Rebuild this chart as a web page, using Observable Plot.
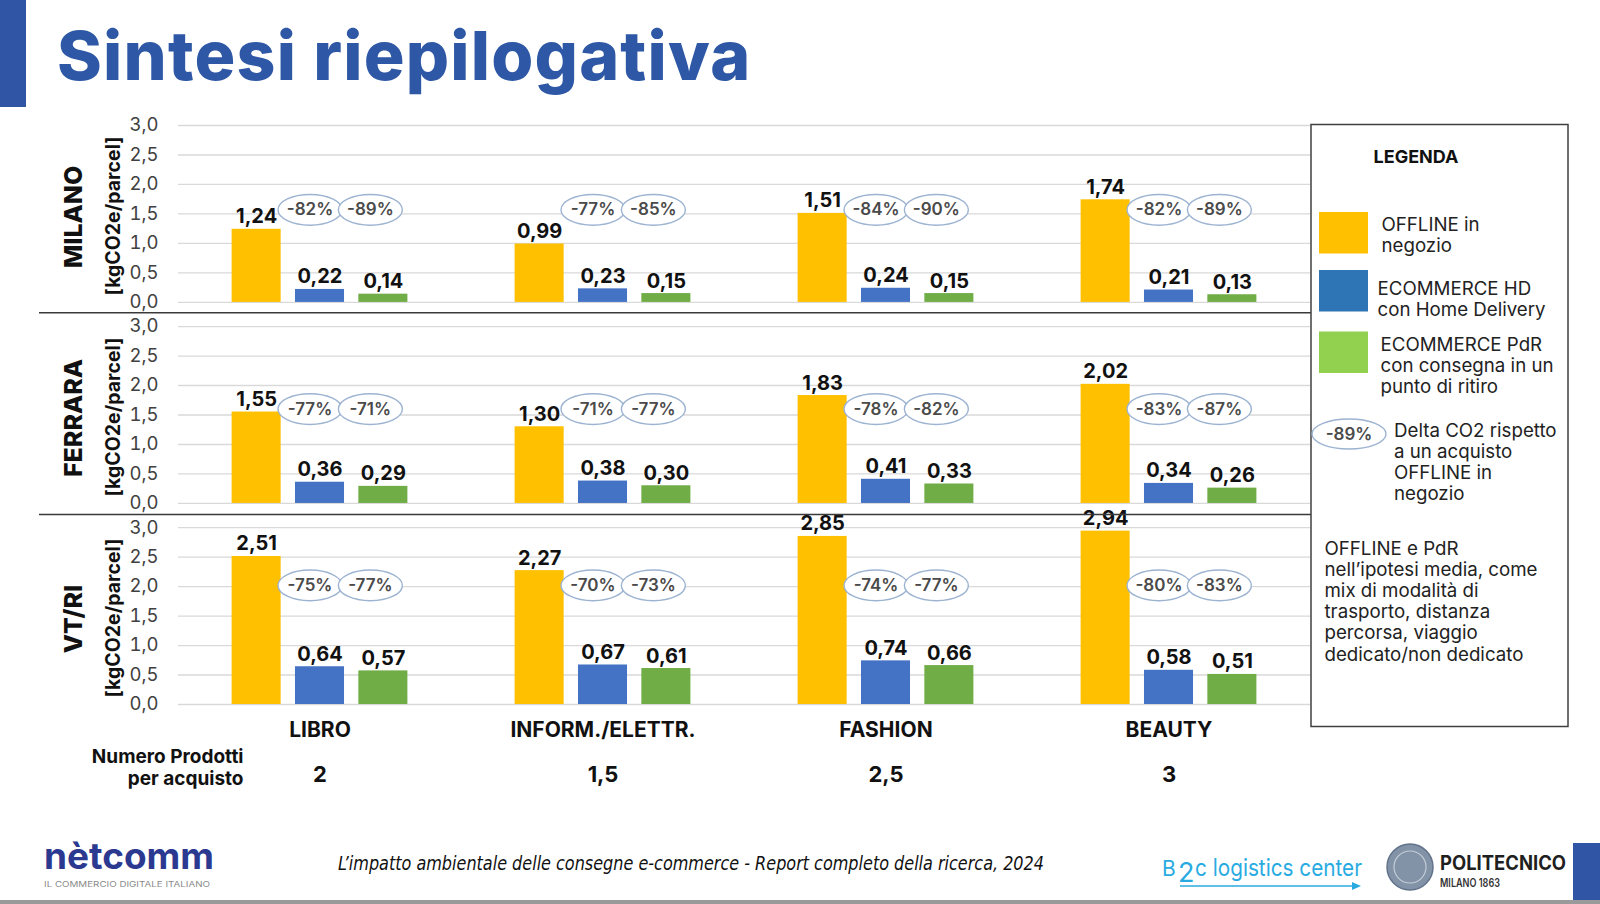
<!DOCTYPE html>
<html><head><meta charset="utf-8">
<script src="https://cdn.jsdelivr.net/npm/d3@7"></script>
<script src="https://cdn.jsdelivr.net/npm/@observablehq/plot@0.6"></script>
<style>
html,body{margin:0;padding:0;background:#fff;}
#wrap{position:relative;width:1600px;height:904px;overflow:hidden;background:#fff;}
#wrap > svg{position:absolute;left:0;top:0;}
</style></head>
<body><div id="wrap"></div>
<script>
// ---------------- DATA ----------------
const categories = ["LIBRO", "INFORM./ELETTR.", "FASHION", "BEAUTY"];
const cities = ["MILANO", "FERRARA", "VT/RI"];
const series = ["OFFLINE", "ECOMMERCE HD", "ECOMMERCE PdR"];
const barColors = ["#FFC000", "#4472C4", "#70AD47"];
const legendColors = ["#FFC000", "#2E75B6", "#92D050"];

const milanoOffline = [1.24, 0.99, 1.51, 1.74];
const milanoHD      = [0.22, 0.23, 0.24, 0.21];
const milanoPdR     = [0.14, 0.15, 0.15, 0.13];
const ferraraOffline = [1.55, 1.30, 1.83, 2.02];
const ferraraHD      = [0.36, 0.38, 0.41, 0.34];
const ferraraPdR     = [0.29, 0.30, 0.33, 0.26];
const vtriOffline = [2.51, 2.27, 2.85, 2.94];
const vtriHD      = [0.64, 0.67, 0.74, 0.58];
const vtriPdR     = [0.57, 0.61, 0.66, 0.51];

const milanoDeltaHD   = [-82, -77, -84, -82];
const milanoDeltaPdR  = [-89, -85, -90, -89];
const ferraraDeltaHD  = [-77, -71, -78, -83];
const ferraraDeltaPdR = [-71, -77, -82, -87];
const vtriDeltaHD     = [-75, -70, -74, -80];
const vtriDeltaPdR    = [-77, -73, -77, -83];

const productsPerPurchase = [2, 1.5, 2.5, 3];
const yTicks = [0, 0.5, 1, 1.5, 2, 2.5, 3];
const unitLabel = "[kgCO2e/parcel]";
const productsLabel = "Numero Prodotti\nper acquisto";

const legendLines = [["OFFLINE in", "negozio"], ["ECOMMERCE HD", "con Home Delivery"], ["ECOMMERCE PdR", "con consegna in un", "punto di ritiro"]];
const deltaLegendSample = -89;
const deltaLegendLines = ["Delta CO2 rispetto", "a un acquisto", "OFFLINE in", "negozio"];
const noteLines = ["OFFLINE e PdR", "nell’ipotesi media, come", "mix di modalità di", "trasporto, distanza", "percorsa, viaggio", "dedicato/non dedicato"];
const titleText = "Sintesi riepilogativa";
const sourceText = "L’impatto ambientale delle consegne e-commerce - Report completo della ricerca,  2024";

// ---------------- TABLES ----------------
const valuesByCity = {
  "MILANO": [milanoOffline, milanoHD, milanoPdR],
  "FERRARA": [ferraraOffline, ferraraHD, ferraraPdR],
  "VT/RI": [vtriOffline, vtriHD, vtriPdR]
};
const deltasByCity = {
  "MILANO": [milanoDeltaHD, milanoDeltaPdR],
  "FERRARA": [ferraraDeltaHD, ferraraDeltaPdR],
  "VT/RI": [vtriDeltaHD, vtriDeltaPdR]
};
const rows = [];
for (const city of cities) categories.forEach((cat, i) => series.forEach((s, k) => rows.push({city, category: cat, series: s, value: valuesByCity[city][k][i]})));
const deltaRows = [[], []];
for (const city of cities) categories.forEach((cat, i) => [0, 1].forEach(k => deltaRows[k].push({city, category: cat, series: series[k + 1], delta: deltasByCity[city][k][i]})));

// level (in axis units) at which the delta badges sit in each panel
const badgeLevel = {"MILANO": 1.57, "FERRARA": 1.6, "VT/RI": 2.02};

const fmt1 = v => v.toFixed(1).replace(".", ",");
const fmt2 = v => v.toFixed(2).replace(".", ",");
const fmtN = v => String(v).replace(".", ",");

const ellipse = {
  draw(ctx, size) {
    const r = Math.sqrt(size / Math.PI), rx = r, ry = r * 0.48, k = 0.5522847498;
    ctx.moveTo(rx, 0);
    ctx.bezierCurveTo(rx, ry * k, rx * k, ry, 0, ry);
    ctx.bezierCurveTo(-rx * k, ry, -rx, ry * k, -rx, 0);
    ctx.bezierCurveTo(-rx, -ry * k, -rx * k, -ry, 0, -ry);
    ctx.bezierCurveTo(rx * k, -ry, rx, -ry * k, rx, 0);
    ctx.closePath();
  }
};

const FONT = "Inter, 'Noto Sans', sans-serif";

const badgeDx = [-10, -13];
const badgeMarks = [];
[0, 1].forEach(k => badgeMarks.push(Plot.dot(deltaRows[k], {fx: "category", fy: "city", x: "series", y: d => badgeLevel[d.city], symbol: ellipse, r: 32, fill: "white", stroke: "#9CB3D1", strokeWidth: 1.4, dx: badgeDx[k]})));
[0, 1].forEach(k => badgeMarks.push(Plot.text(deltaRows[k], {fx: "category", fy: "city", x: "series", y: d => badgeLevel[d.city], text: d => d.delta + "%", fontSize: 17, fontWeight: 600, fill: "#4a4a4a", dx: badgeDx[k]})));

const chart = Plot.plot({
  width: 1600, height: 904,
  marginLeft: 178, marginRight: 290, marginTop: 125, marginBottom: 200,
  style: {fontFamily: FONT, fontSize: "18.5px", background: "transparent", overflow: "visible"},
  fx: {domain: categories, paddingInner: 0, paddingOuter: 0, round: false, axis: null, label: null},
  fy: {domain: cities, paddingInner: 0.12, paddingOuter: 0, round: false, axis: null, label: null},
  x: {domain: series, paddingInner: 0.226, paddingOuter: 0.846, round: false, axis: null, label: null},
  y: {domain: [0, 3], label: null},
  color: {domain: series, range: barColors},
  marks: [
    Plot.ruleY(yTicks, {stroke: "#D9D9D9", strokeWidth: 1.3}),
    Plot.axisY({ticks: yTicks, tickFormat: fmt1, tickSize: 0, tickPadding: 20, label: null, color: "#404040"}),
    Plot.barY(rows, {fx: "category", fy: "city", x: "series", y: "value", fill: "series"}),
    Plot.text(rows, {fx: "category", fy: "city", x: "series", y: "value", text: d => fmt2(d.value), lineAnchor: "bottom", dy: -6, fontSize: 20, fontWeight: 700, fill: "#111"}),
    ...badgeMarks,
    Plot.text(cities, {fx: () => categories[0], fy: d => d, text: d => d, frameAnchor: "left", textAnchor: "middle", rotate: -90, dx: -105, dy: 3, fontSize: 25, fontWeight: 800, fill: "#111"}),
    Plot.text(cities, {fx: () => categories[0], fy: d => d, text: () => unitLabel, frameAnchor: "left", textAnchor: "middle", rotate: -90, dx: -65, dy: 2, fontSize: 19.5, fontWeight: 700, fill: "#111"}),
    Plot.text(categories, {fx: d => d, fy: () => cities[2], text: d => d, frameAnchor: "bottom", dy: 32, fontSize: 21, fontWeight: 700, fill: "#111"}),
    Plot.text(productsPerPurchase, {fx: (d, i) => categories[i], fy: () => cities[2], text: d => fmtN(d), frameAnchor: "bottom", dy: 77, fontSize: 22, fontWeight: 700, fill: "#111"}),
    Plot.text([productsLabel], {fx: () => categories[0], fy: () => cities[2], text: d => d, frameAnchor: "bottom-left", textAnchor: "end", dx: 65, dy: 80, lineHeight: 1.13, fontSize: 19, fontWeight: 700, fill: "#111"})
  ]
});
const wrap = document.getElementById("wrap");
wrap.appendChild(chart);

// ---------------- OVERLAY (title, separators, legend, footer) ----------------
const ov = d3.select(wrap).append("svg").attr("width", 1600).attr("height", 904).style("font-family", FONT).style("pointer-events", "none");
const T = (x, y, s, o = {}) => {
  const t = ov.append("text").attr("x", x).attr("y", y).attr("dy", o.dy ?? "0.35em").text(s)
    .attr("font-size", o.size ?? 18.7).attr("font-weight", o.weight ?? 400).attr("fill", o.fill ?? "#222")
    .attr("text-anchor", o.anchor ?? "start");
  if (o.family) t.attr("font-family", o.family);
  if (o.italic) t.attr("font-style", "italic");
  if (o.ls) t.attr("letter-spacing", o.ls);
  if (o.len) t.attr("textLength", o.len).attr("lengthAdjust", "spacingAndGlyphs");
  return t;
};

// title + left accent
ov.append("rect").attr("x", 0).attr("y", 0).attr("width", 26).attr("height", 107).attr("fill", "#2F55A4");
T(57, 80, titleText, {dy: 0, size: 68, weight: 800, fill: "#2E58A6", ls: 1.2});

// panel separators
[312.7, 514.5].forEach(y => ov.append("line").attr("x1", 39).attr("x2", 1311).attr("y1", y).attr("y2", y).attr("stroke", "#3a3a3a").attr("stroke-width", 1.5));

// legend box
ov.append("rect").attr("x", 1311).attr("y", 124.5).attr("width", 257).attr("height", 602).attr("fill", "none").attr("stroke", "#404040").attr("stroke-width", 1.5);
T(1416, 156.5, "LEGENDA", {size: 18, weight: 700, fill: "#111", anchor: "middle"});
const swY = [212, 270, 331.5];
const txX = [1381.5, 1377.5, 1380.5];
const txY = [224.5, 288, 344];
legendLines.forEach((lines, k) => {
  ov.append("rect").attr("x", 1319).attr("y", swY[k]).attr("width", 49).attr("height", 41.5).attr("fill", legendColors[k]);
  lines.forEach((s, j) => T(txX[k], txY[k] + j * 21.2, s));
});
ov.append("ellipse").attr("cx", 1349).attr("cy", 434).attr("rx", 37).attr("ry", 15).attr("fill", "white").attr("stroke", "#9CB3D1").attr("stroke-width", 1.4);
T(1349, 434, deltaLegendSample + "%", {size: 17, weight: 600, fill: "#4a4a4a", anchor: "middle"});
deltaLegendLines.forEach((s, j) => T(1394, 430.6 + j * 20.8, s));
noteLines.forEach((s, j) => T(1324.5, 548 + j * 21.2, s));

// footer
T(691, 863, sourceText, {size: 19, italic: true, fill: "#111", anchor: "middle", family: "'Liberation Sans Narrow', 'DejaVu Sans Condensed', sans-serif", len: 706});
T(44, 869, "nètcomm", {dy: 0, size: 36, weight: 700, fill: "#2B3990", len: 170});
T(44, 887, "IL COMMERCIO DIGITALE ITALIANO", {dy: 0, size: 7.5, fill: "#8a8a8a", len: 166});
T(1162, 876, "B", {dy: 0, size: 21, fill: "#29ABE2"});
T(1178, 882, "2", {dy: 0, size: 27, fill: "#29ABE2"});
T(1195, 876, "c logistics center", {dy: 0, size: 24, fill: "#29ABE2", len: 167});
ov.append("line").attr("x1", 1180).attr("x2", 1358).attr("y1", 886).attr("y2", 886).attr("stroke", "#29ABE2").attr("stroke-width", 1.6);
ov.append("path").attr("d", "M1352,882 L1361,886 L1352,890 Z").attr("fill", "#29ABE2");
ov.append("circle").attr("cx", 1410).attr("cy", 867).attr("r", 23).attr("fill", "#8393A7").attr("stroke", "#62728A").attr("stroke-width", 1.5);
ov.append("circle").attr("cx", 1410).attr("cy", 867).attr("r", 16).attr("fill", "none").attr("stroke", "#C3CDD8").attr("stroke-width", 1.2);
T(1440, 870, "POLITECNICO", {dy: 0, size: 19.5, weight: 700, fill: "#1f1f1f", len: 126});
T(1440, 887, "MILANO 1863", {dy: 0, size: 11.5, weight: 600, fill: "#333", len: 60});
ov.append("rect").attr("x", 1573).attr("y", 843).attr("width", 27).attr("height", 58).attr("fill", "#2F55A4");
ov.append("rect").attr("x", 0).attr("y", 900).attr("width", 1600).attr("height", 4).attr("fill", "#9a9a9a");
</script>
</body></html>
